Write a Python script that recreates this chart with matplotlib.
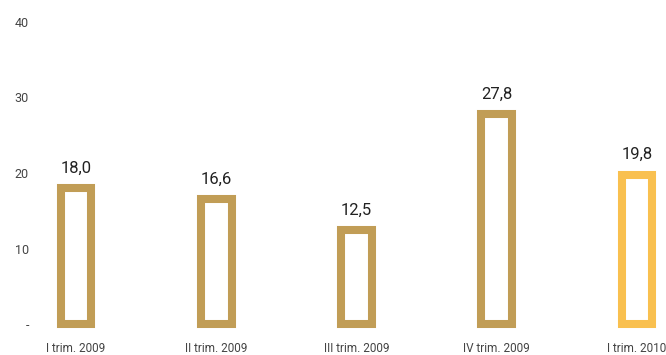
import matplotlib
matplotlib.use("Agg")
from matplotlib import pyplot as plt

quarters = ["I trim. 2009", "II trim. 2009", "III trim. 2009", "IV trim. 2009", "I trim. 2010"]
values = [18.0, 16.6, 12.5, 27.8, 19.8]
value_labels = ["18,0", "16,6", "12,5", "27,8", "19,8"]
y_ticks = [0, 10, 20, 30, 40]
y_tick_labels = ["-", "10", "20", "30", "40"]

gold = "#C19D56"
highlight = "#F9C04F"
colors = [gold, gold, gold, gold, highlight]

plt.rcParams["font.family"] = ["Roboto", "DejaVu Sans"]

fig = plt.figure(figsize=(6.66, 3.55), dpi=100)
W, H = 666, 355
ax = fig.add_axes([40 / W, 31 / H, (W - 40) / W, 302 / H])

x = list(range(len(values)))
bars = ax.bar(x, values, width=0.22, facecolor="white", edgecolor=colors,
              linewidth=5.8, clip_on=False)
for b in bars:
    b.set_joinstyle("miter")

for xi, v, lab in zip(x, values, value_labels):
    ax.annotate(lab, (xi, v), xytext=(0, 11), textcoords="offset points",
                ha="center", va="baseline", fontsize=12, color="#222222")

ax.set_xlim(-36 / 140, 4 + 29 / 140)
ax.set_ylim(0, 40)
ax.set_yticks(y_ticks)
ax.set_yticklabels(y_tick_labels, fontsize=9, color="#444444")
ax.set_xticks(x)
ax.set_xticklabels(quarters, fontsize=8.5, color="#444444")
ax.tick_params(axis="both", length=0)
ax.tick_params(axis="y", pad=8)
ax.tick_params(axis="x", pad=13)
for s in ax.spines.values():
    s.set_visible(False)

fig.savefig("out.png", dpi=100)
